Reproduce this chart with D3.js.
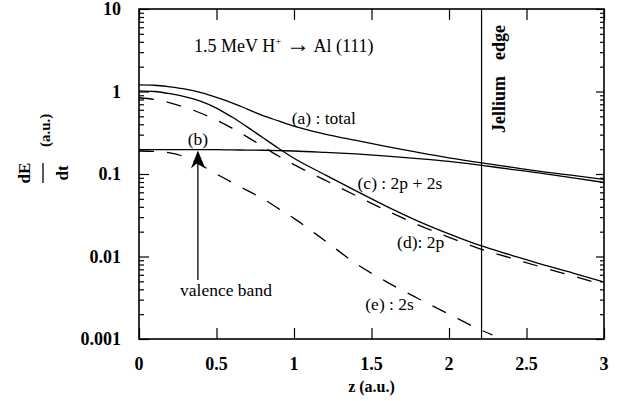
<!DOCTYPE html>
<html>
<head>
<meta charset="utf-8">
<script src="https://cdn.jsdelivr.net/npm/d3@7"></script>
<style>
  body { margin: 0; background: #fff; }
  svg { display: block; }
  text { font-family: "Liberation Serif", "Times New Roman", serif; fill: #000; }
  .tick-label { font-size: 18px; font-weight: bold; }
  .note { font-size: 17.5px; }
  .curve { fill: none; stroke: #000; stroke-width: 1.3; }
  .dashed { stroke-dasharray: 15, 13; }
</style>
</head>
<body>
<svg id="chart"></svg>
<script>
  'use strict';

  /* z positions (a.u.) of the sampled points */
  var zGrid = [0, 0.1, 0.2, 0.3, 0.4, 0.5, 0.6, 0.7, 0.8, 0.9, 1.0,
    1.2, 1.4, 1.6, 1.8, 2.0, 2.2, 2.4, 2.6, 2.8, 3.0];

  /* (a) : total */
  var total = [1.2, 1.19, 1.14, 1.07, 0.97, 0.85, 0.73, 0.61, 0.51, 0.44, 0.38,
    0.305, 0.255, 0.215, 0.183, 0.157, 0.137, 0.121, 0.107, 0.096, 0.086];
  /* (b) : valence band */
  var valence = [0.198, 0.198, 0.198, 0.198, 0.197, 0.197, 0.196, 0.195, 0.194, 0.192, 0.19,
    0.183, 0.175, 0.165, 0.154, 0.142, 0.128, 0.114, 0.102, 0.09, 0.079];
  /* (c) : 2p + 2s */
  var core = [1.02, 1.0, 0.94, 0.86, 0.76, 0.63, 0.49, 0.37, 0.275, 0.205, 0.155,
    0.098, 0.0624, 0.0403, 0.0269, 0.0188, 0.0136, 0.0104, 0.008, 0.0063, 0.0049];
  /* (d) : 2p */
  var shell2p = [0.84, 0.80, 0.73, 0.64, 0.545, 0.45, 0.36, 0.28, 0.215, 0.165, 0.13,
    0.0843, 0.0546, 0.0359, 0.0242, 0.0171, 0.0124, 0.0096, 0.0074, 0.0058, 0.0045];
  /* (e) : 2s, stops near the jellium edge */
  var z2s = [0, 0.1, 0.2, 0.3, 0.4, 0.5, 0.6, 0.7, 0.8, 0.9, 1.0,
    1.2, 1.4, 1.6, 1.8, 2.0, 2.2, 2.28];
  var shell2s = [0.19, 0.188, 0.18, 0.16, 0.128, 0.1, 0.079, 0.063, 0.05, 0.038, 0.029,
    0.0155, 0.0082, 0.0049, 0.0031, 0.002, 0.0013, 0.00112];

  var xTicks = [0, 0.5, 1, 1.5, 2, 2.5, 3];
  var xTickLabels = ['0', '0.5', '1', '1.5', '2', '2.5', '3'];
  var yTicks = [0.001, 0.01, 0.1, 1, 10];
  var yTickLabels = ['0.001', '0.01', '0.1', '1', '10'];
  var jelliumEdge = 2.21;

  var width = 619;
  var height = 401;
  var plot = { left: 139, right: 604, top: 9, bottom: 339 };

  var svg = d3.select('#chart')
    .attr('width', width)
    .attr('height', height);

  var x = d3.scaleLinear().domain([0, 3]).range([plot.left, plot.right]);
  var y = d3.scaleLog().domain([0.001, 10]).range([plot.bottom, plot.top]);

  /* We draw the tick marks, all pointing inwards */
  var minor = y.ticks().filter(function(v) { return yTicks.indexOf(v) < 0; });

  svg.append('g')
    .attr('transform', 'translate(' + plot.left + ',0)')
    .call(d3.axisLeft(y).tickValues(minor).tickSize(-5).tickFormat(''));
  svg.append('g')
    .attr('transform', 'translate(' + plot.left + ',0)')
    .call(d3.axisLeft(y).tickValues(yTicks).tickSize(-10).tickFormat(''));
  svg.append('g')
    .attr('transform', 'translate(' + plot.right + ',0)')
    .call(d3.axisRight(y).tickValues(minor).tickSize(-4).tickFormat(''));
  svg.append('g')
    .attr('transform', 'translate(' + plot.right + ',0)')
    .call(d3.axisRight(y).tickValues(yTicks).tickSize(-8).tickFormat(''));
  svg.append('g')
    .attr('transform', 'translate(0,' + plot.bottom + ')')
    .call(d3.axisBottom(x).tickValues(xTicks).tickSize(-11).tickFormat(''));
  svg.append('g')
    .attr('transform', 'translate(0,' + plot.top + ')')
    .call(d3.axisTop(x).tickValues(xTicks).tickSize(-11).tickFormat(''));

  svg.selectAll('.domain').remove();
  svg.selectAll('.tick line').attr('stroke', '#000').attr('stroke-width', 1.2);

  /* Tick labels */
  svg.append('g').selectAll('text')
    .data(yTicks)
    .enter().append('text')
      .attr('class', 'tick-label')
      .attr('x', plot.left - 18)
      .attr('y', function(d) { return y(d); })
      .attr('dy', '0.35em')
      .style('text-anchor', 'end')
      .text(function(d, i) { return yTickLabels[i]; });

  svg.append('g').selectAll('text')
    .data(xTicks)
    .enter().append('text')
      .attr('class', 'tick-label')
      .attr('x', function(d) { return x(d); })
      .attr('y', 370)
      .style('text-anchor', 'middle')
      .text(function(d, i) { return xTickLabels[i]; });

  /* Frame */
  svg.append('rect')
    .attr('x', plot.left)
    .attr('y', plot.top)
    .attr('width', plot.right - plot.left)
    .attr('height', plot.bottom - plot.top)
    .attr('fill', 'none')
    .attr('stroke', '#000')
    .attr('stroke-width', 1.6);

  /* Jellium edge */
  svg.append('line')
    .attr('x1', x(jelliumEdge)).attr('x2', x(jelliumEdge))
    .attr('y1', plot.top).attr('y2', plot.bottom)
    .attr('stroke', '#000')
    .attr('stroke-width', 1.2);

  /* Curves */
  var line = d3.line()
    .x(function(d) { return x(d[0]); })
    .y(function(d) { return y(d[1]); })
    .curve(d3.curveMonotoneX);

  function pairs(zs, vs) {
    return zs.map(function(z, i) { return [z, vs[i]]; });
  }

  var series = [
    { values: pairs(zGrid, total), dashed: false },
    { values: pairs(zGrid, valence), dashed: false },
    { values: pairs(zGrid, core), dashed: false },
    { values: pairs(zGrid, shell2p), dashed: true },
    { values: pairs(z2s, shell2s), dashed: true }
  ];

  svg.append('g').selectAll('path')
    .data(series)
    .enter().append('path')
      .attr('class', function(d) { return d.dashed ? 'curve dashed' : 'curve'; })
      .attr('d', function(d) { return line(d.values); });

  /* Valence band arrow */
  var arrowZ = 0.38;
  svg.append('line')
    .attr('x1', x(arrowZ)).attr('x2', x(arrowZ))
    .attr('y1', y(0.0052)).attr('y2', y(0.196) + 8)
    .attr('stroke', '#000')
    .attr('stroke-width', 1.3);
  svg.append('path')
    .attr('transform', 'translate(' + x(arrowZ) + ',' + (y(0.198) + 1) + ')')
    .attr('d', 'M0,0 L-7,18 L0,12 L7,17 Z')
    .attr('fill', '#000');

  /* Annotations, anchored at data coordinates (z, dE/dt) */
  var notes = [
    { text: '(a) : total', z: 0.985, v: 0.40 },
    { text: '(b)', z: 0.38, v: 0.225, anchor: 'middle' },
    { text: '(c) : 2p + 2s', z: 1.41, v: 0.065 },
    { text: '(d): 2p', z: 1.665, v: 0.0127 },
    { text: '(e) : 2s', z: 1.46, v: 0.00225 },
    { text: 'valence band', z: 0.265, v: 0.00332 }
  ];

  svg.append('g').selectAll('text')
    .data(notes)
    .enter().append('text')
      .attr('class', 'note')
      .attr('x', function(d) { return x(d.z); })
      .attr('y', function(d) { return y(d.v); })
      .style('text-anchor', function(d) { return d.anchor || 'start'; })
      .text(function(d) { return d.text; });

  var title = svg.append('text')
    .attr('x', 194)
    .attr('y', 52)
    .style('font-size', '18px');
  title.append('tspan').text('1.5 MeV H');
  title.append('tspan').attr('dy', -7).style('font-size', '11px').text('+');
  title.append('tspan').attr('dy', 7).text(' ');
  title.append('tspan').style('font-size', '24px').text('\u2192');
  title.append('tspan').text(' Al (111)');

  var edge = svg.append('g')
    .attr('transform', 'translate(505,79) rotate(-90)');
  edge.append('text')
    .attr('x', -54)
    .style('font-size', '18px').style('font-weight', 'bold')
    .text('Jellium');
  edge.append('text')
    .attr('x', 54)
    .style('text-anchor', 'end')
    .style('font-size', '18px').style('font-weight', 'bold')
    .text('edge');

  /* Axis labels */
  svg.append('text')
    .attr('x', (plot.left + plot.right) / 2)
    .attr('y', 392)
    .style('text-anchor', 'middle')
    .style('font-size', '16px').style('font-weight', 'bold')
    .text('z (a.u.)');

  var yLabel = svg.append('g')
    .attr('transform', 'translate(43,173) rotate(-90)');
  yLabel.append('text')
    .attr('y', -13)
    .style('text-anchor', 'middle')
    .style('font-size', '17px').style('font-weight', 'bold')
    .text('dE');
  yLabel.append('line')
    .attr('x1', -10).attr('x2', 10)
    .attr('stroke', '#000').attr('stroke-width', 1.3);
  yLabel.append('text')
    .attr('y', 25)
    .style('text-anchor', 'middle')
    .style('font-size', '17px').style('font-weight', 'bold')
    .text('dt');
  yLabel.append('text')
    .attr('x', 26)
    .attr('y', 7)
    .style('font-size', '15px').style('font-weight', 'bold')
    .text('(a.u.)');
</script>
</body>
</html>
